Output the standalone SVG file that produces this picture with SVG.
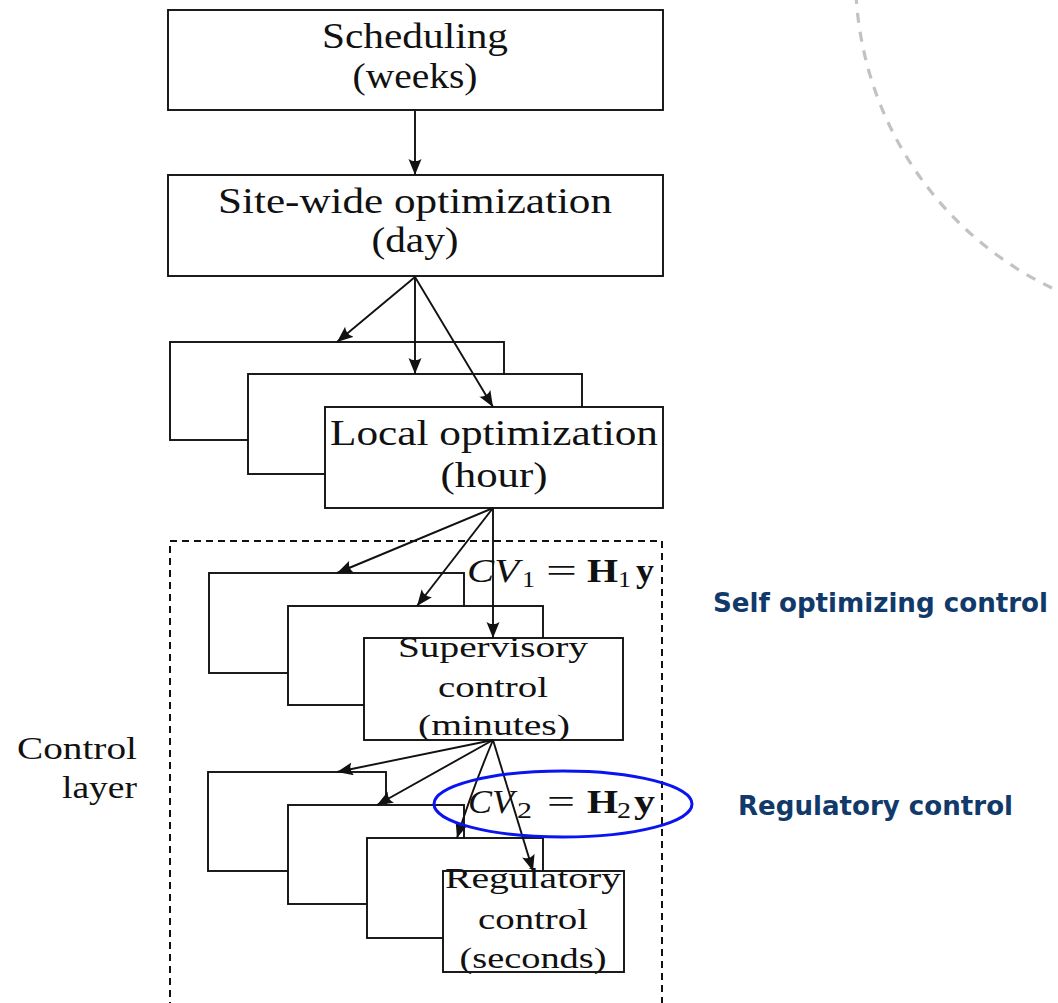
<svg xmlns="http://www.w3.org/2000/svg" width="1058" height="1003" viewBox="0 0 1058 1003">
  <style>
    .box { fill: #ffffff; stroke: #111111; stroke-width: 1.9; }
    .lbl { font-family: "Liberation Serif", "DejaVu Serif", serif; fill: #111111; text-anchor: middle; }
    .big { font-size: 35px; }
    .mid { font-size: 30px; }
    .side { font-family: "Liberation Serif", "DejaVu Serif", serif; fill: #111111; font-size: 31px; text-anchor: end; }
    .eq { font-family: "Liberation Serif", "DejaVu Serif", serif; fill: #111111; font-size: 33px; }
    .it { font-style: italic; }
    .bf { font-weight: bold; }
    .sub { font-family: "Liberation Serif", "DejaVu Serif", serif; fill: #111111; font-size: 24px; }
    .note { font-family: "DejaVu Sans", "Liberation Sans", sans-serif; font-weight: bold; font-size: 27px; fill: #113a6b; }
    .wire { fill: none; stroke: #111111; stroke-width: 1.9; marker-end: url(#head); }
  </style>
  <defs>
    <marker id="head" markerUnits="userSpaceOnUse" markerWidth="18" markerHeight="14" refX="16" refY="6.5" orient="auto">
      <path d="M0,0 Q4.5,6.5 0,13 L16,6.5 Z" fill="#111111"/>
    </marker>
  </defs>

  <!-- decorative dashed arc, upper right -->
  <path d="M 856 -6 A 346 346 0 0 0 1052 288" fill="none" stroke="#c2c2c2" stroke-width="3.2" stroke-dasharray="10 9"/>

  <!-- control layer frame -->
  <g id="control-layer">
    <rect x="170" y="541" width="492" height="480" fill="none" stroke="#111111" stroke-width="2" stroke-dasharray="7 5"/>
    <text class="side" x="137" y="759" textLength="120" lengthAdjust="spacingAndGlyphs">Control</text>
    <text class="side" x="137" y="798" textLength="75" lengthAdjust="spacingAndGlyphs">layer</text>
  </g>

  <g id="scheduling">
    <rect class="box" x="168" y="10" width="495" height="100"/>
    <text class="lbl big" x="415" y="48" textLength="186" lengthAdjust="spacingAndGlyphs">Scheduling</text>
    <text class="lbl big" x="415" y="88" textLength="125" lengthAdjust="spacingAndGlyphs">(weeks)</text>
  </g>

  <g id="site-wide">
    <rect class="box" x="168" y="175" width="495" height="101"/>
    <text class="lbl big" x="415" y="213" textLength="394" lengthAdjust="spacingAndGlyphs">Site-wide optimization</text>
    <text class="lbl big" x="415" y="252" textLength="87" lengthAdjust="spacingAndGlyphs">(day)</text>
  </g>

  <g id="local-optimization">
    <rect class="box" x="170" y="342" width="334" height="98"/>
    <rect class="box" x="248" y="374" width="334" height="100"/>
    <rect class="box" x="325" y="407" width="338" height="101"/>
    <text class="lbl big" x="494" y="445" textLength="328" lengthAdjust="spacingAndGlyphs">Local optimization</text>
    <text class="lbl big" x="494" y="487" textLength="107" lengthAdjust="spacingAndGlyphs">(hour)</text>
  </g>

  <g id="supervisory">
    <rect class="box" x="209" y="573" width="255" height="100"/>
    <rect class="box" x="288" y="606" width="255" height="99"/>
    <rect class="box" x="364" y="638" width="259" height="102"/>
    <text class="lbl mid" x="493" y="657" textLength="190" lengthAdjust="spacingAndGlyphs">Supervisory</text>
    <text class="lbl mid" x="493" y="697" textLength="110" lengthAdjust="spacingAndGlyphs">control</text>
    <text class="lbl mid" x="494" y="735" textLength="152" lengthAdjust="spacingAndGlyphs">(minutes)</text>
  </g>

  <g id="regulatory">
    <rect class="box" x="208" y="772" width="178" height="99"/>
    <rect class="box" x="288" y="805" width="176" height="99"/>
    <rect class="box" x="367" y="838" width="176" height="100"/>
    <rect class="box" x="443" y="871" width="181" height="101"/>
    <text class="lbl mid" x="533" y="888" textLength="176" lengthAdjust="spacingAndGlyphs">Regulatory</text>
    <text class="lbl mid" x="533" y="929" textLength="110" lengthAdjust="spacingAndGlyphs">control</text>
    <text class="lbl mid" x="533" y="968" textLength="147" lengthAdjust="spacingAndGlyphs">(seconds)</text>
  </g>

  <g id="connectors">
    <line class="wire" x1="415" y1="111" x2="415" y2="175"/>
    <line class="wire" x1="415" y1="277" x2="337" y2="342"/>
    <line class="wire" x1="415" y1="277" x2="415" y2="374"/>
    <line class="wire" x1="415" y1="277" x2="493" y2="407"/>
    <line class="wire" x1="493" y1="508" x2="337" y2="573"/>
    <line class="wire" x1="493" y1="508" x2="417" y2="606"/>
    <line class="wire" x1="493" y1="508" x2="493" y2="638"/>
    <line class="wire" x1="493" y1="740" x2="337" y2="772"/>
    <line class="wire" x1="493" y1="740" x2="377" y2="805"/>
    <path class="wire" d="M 493 740 Q 472 790 457 838"/>
    <line class="wire" x1="493" y1="740" x2="533" y2="871"/>
  </g>

  <!-- CV1 = H1 y -->
  <g id="cv1">
    <text class="eq it" x="467" y="582" textLength="52" lengthAdjust="spacingAndGlyphs">CV</text>
    <text class="sub" x="522" y="587" textLength="13" lengthAdjust="spacingAndGlyphs">1</text>
    <text class="eq" x="546" y="582" textLength="31" lengthAdjust="spacingAndGlyphs">=</text>
    <text class="eq bf" x="587" y="582" textLength="31" lengthAdjust="spacingAndGlyphs">H</text>
    <text class="sub" x="618" y="587" textLength="13" lengthAdjust="spacingAndGlyphs">1</text>
    <text class="eq bf" x="636" y="582" textLength="18" lengthAdjust="spacingAndGlyphs">y</text>
  </g>

  <!-- CV2 = H2 y, circled -->
  <g id="cv2">
    <text class="eq it" x="468" y="813" textLength="46" lengthAdjust="spacingAndGlyphs">CV</text>
    <text class="sub" x="517" y="818" textLength="15" lengthAdjust="spacingAndGlyphs">2</text>
    <text class="eq" x="547" y="813" textLength="28" lengthAdjust="spacingAndGlyphs">=</text>
    <text class="eq bf" x="587" y="813" textLength="31" lengthAdjust="spacingAndGlyphs">H</text>
    <text class="sub" x="617" y="818" textLength="14" lengthAdjust="spacingAndGlyphs">2</text>
    <text class="eq bf" x="634" y="813" textLength="21" lengthAdjust="spacingAndGlyphs">y</text>
    <ellipse cx="563" cy="804" rx="129" ry="33" fill="none" stroke="#0a14f0" stroke-width="3"/>
  </g>

  <g id="annotations">
    <text class="note" x="713" y="612" textLength="335" lengthAdjust="spacingAndGlyphs">Self optimizing control</text>
    <text class="note" x="738" y="815" textLength="275" lengthAdjust="spacingAndGlyphs">Regulatory control</text>
  </g>
</svg>
